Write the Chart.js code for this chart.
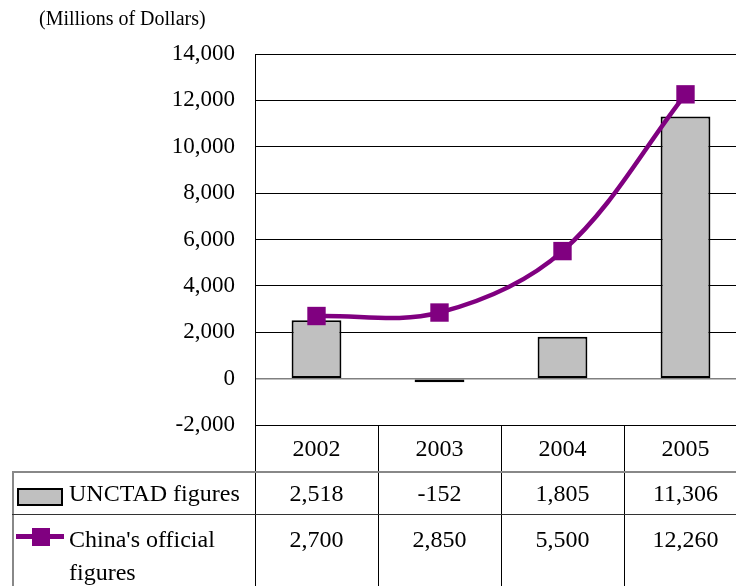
<!DOCTYPE html>
<html><head><meta charset="utf-8">
<script src="https://cdn.jsdelivr.net/npm/chart.js@4.4.0/dist/chart.umd.min.js"></script>
<style>
html,body{margin:0;padding:0;background:#fff;overflow:hidden;width:736px;height:586px;}
#wrap{position:relative;width:760px;height:586px;overflow:hidden;}
canvas{position:absolute;left:0;top:0;}
.t{position:absolute;font-family:"Liberation Serif","Times New Roman",serif;color:#000;white-space:nowrap;}
.ln{position:absolute;}
</style></head><body>
<div id="wrap">
<canvas id="c" width="760" height="586"></canvas>
<div id="tbl"></div>
<div class="t" style="left:39px;top:7px;font-size:20px;line-height:22px;">(Millions of Dollars)</div>
</div>
<script>
// ---- data ----
const years = ['2002', '2003', '2004', '2005'];
const unctadValues = [2518, -152, 1805, 11306];
const officialValues = [2700, 2850, 5500, 12260];
const seriesNames = ['UNCTAD figures', "China's official<br>figures"];
const yMin = -2000, yMax = 14000, yStep = 2000;

const fmt = v => v.toLocaleString('en-US');
const FONT = '"Liberation Serif","Times New Roman",serif';
Chart.defaults.font.family = FONT;
Chart.defaults.color = '#000';

const chart = new Chart(document.getElementById('c'), {
  type: 'bar',
  data: {
    labels: years,
    datasets: [
      {
        type: 'line', label: "China's official figures", data: officialValues, order: 0,
        borderColor: '#800080', borderWidth: 4.5, tension: 0.35, fill: false,
        pointStyle: 'rect', pointRadius: 13, pointBackgroundColor: '#800080',
        pointBorderWidth: 0, pointBorderColor: '#800080'
      },
      {
        type: 'bar', label: 'UNCTAD figures', data: unctadValues, order: 1,
        backgroundColor: '#c0c0c0', borderColor: '#000', borderWidth: 2,
        borderSkipped: false, barPercentage: 0.405, categoryPercentage: 1
      }
    ]
  },
  options: {
    responsive: false, animation: false,
    layout: { padding: { top: 54, right: 12, bottom: 161, left: 0 } },
    plugins: { legend: { display: false }, tooltip: { enabled: false } },
    scales: {
      x: { display: false, offset: true },
      y: {
        min: yMin, max: yMax,
        afterFit: s => { s.width = 255; },
        border: { display: true, color: '#000', width: 1 },
        grid: {
          drawTicks: false,
          color: c => (c.tick && c.tick.value === 0) ? '#808080' : '#000',
          lineWidth: c => (c.tick && c.tick.value === 0) ? 1.5 : 1
        },
        ticks: {
          stepSize: yStep, padding: 20, color: '#000',
          font: { size: 23, family: FONT },
          callback: v => fmt(v)
        }
      }
    }
  }
});

// ---- data table below the plot ----
(function () {
  const ca = chart.chartArea;
  const tbl = document.getElementById('tbl');
  const n = years.length;
  const colW = (ca.right - ca.left) / n;
  const tableLeft = 12, row1Top = 472, row2Top = 514, bottom = 600;
  const add = (cls, style, html) => {
    const d = document.createElement('div');
    d.className = cls; d.style.cssText = style; if (html !== undefined) d.innerHTML = html;
    tbl.appendChild(d);
  };
  // vertical lines
  for (let i = 0; i < n; i++) {
    const x = Math.round(ca.left + i * colW);
    add('ln', `left:${x}px;top:${Math.round(ca.bottom)}px;width:1px;height:${bottom - ca.bottom}px;background:#000;`);
  }
  add('ln', `left:${tableLeft}px;top:${row1Top}px;width:2px;height:${bottom - row1Top}px;background:#888;`);
  // horizontal lines
  add('ln', `left:${tableLeft}px;top:${row1Top - 1}px;width:${ca.right - tableLeft}px;height:2px;background:#888;`);
  add('ln', `left:${tableLeft}px;top:${row2Top}px;width:${ca.right - tableLeft}px;height:1px;background:#333;`);

  const cell = (x, cy, w, txt) =>
    add('t', `left:${x}px;top:${cy - 15}px;width:${w}px;height:30px;line-height:30px;text-align:center;font-size:24px;`, txt);
  years.forEach((y, i) => cell(ca.left + i * colW, 448, colW, y));
  unctadValues.forEach((v, i) => cell(ca.left + i * colW, 493, colW, fmt(v)));
  officialValues.forEach((v, i) => cell(ca.left + i * colW, 539, colW, fmt(v)));

  // legend keys
  add('ln', `left:17px;top:488px;width:42px;height:14px;background:#c0c0c0;border:2px solid #000;`);
  add('ln', `left:16px;top:534px;width:48px;height:5px;background:#800080;`);
  add('ln', `left:32px;top:528px;width:18px;height:18px;background:#800080;`);
  add('t', `left:69px;top:478px;font-size:24px;line-height:30px;`, seriesNames[0]);
  add('t', `left:69px;top:523px;font-size:24px;line-height:33px;`, seriesNames[1]);
})();
</script>
</body></html>
